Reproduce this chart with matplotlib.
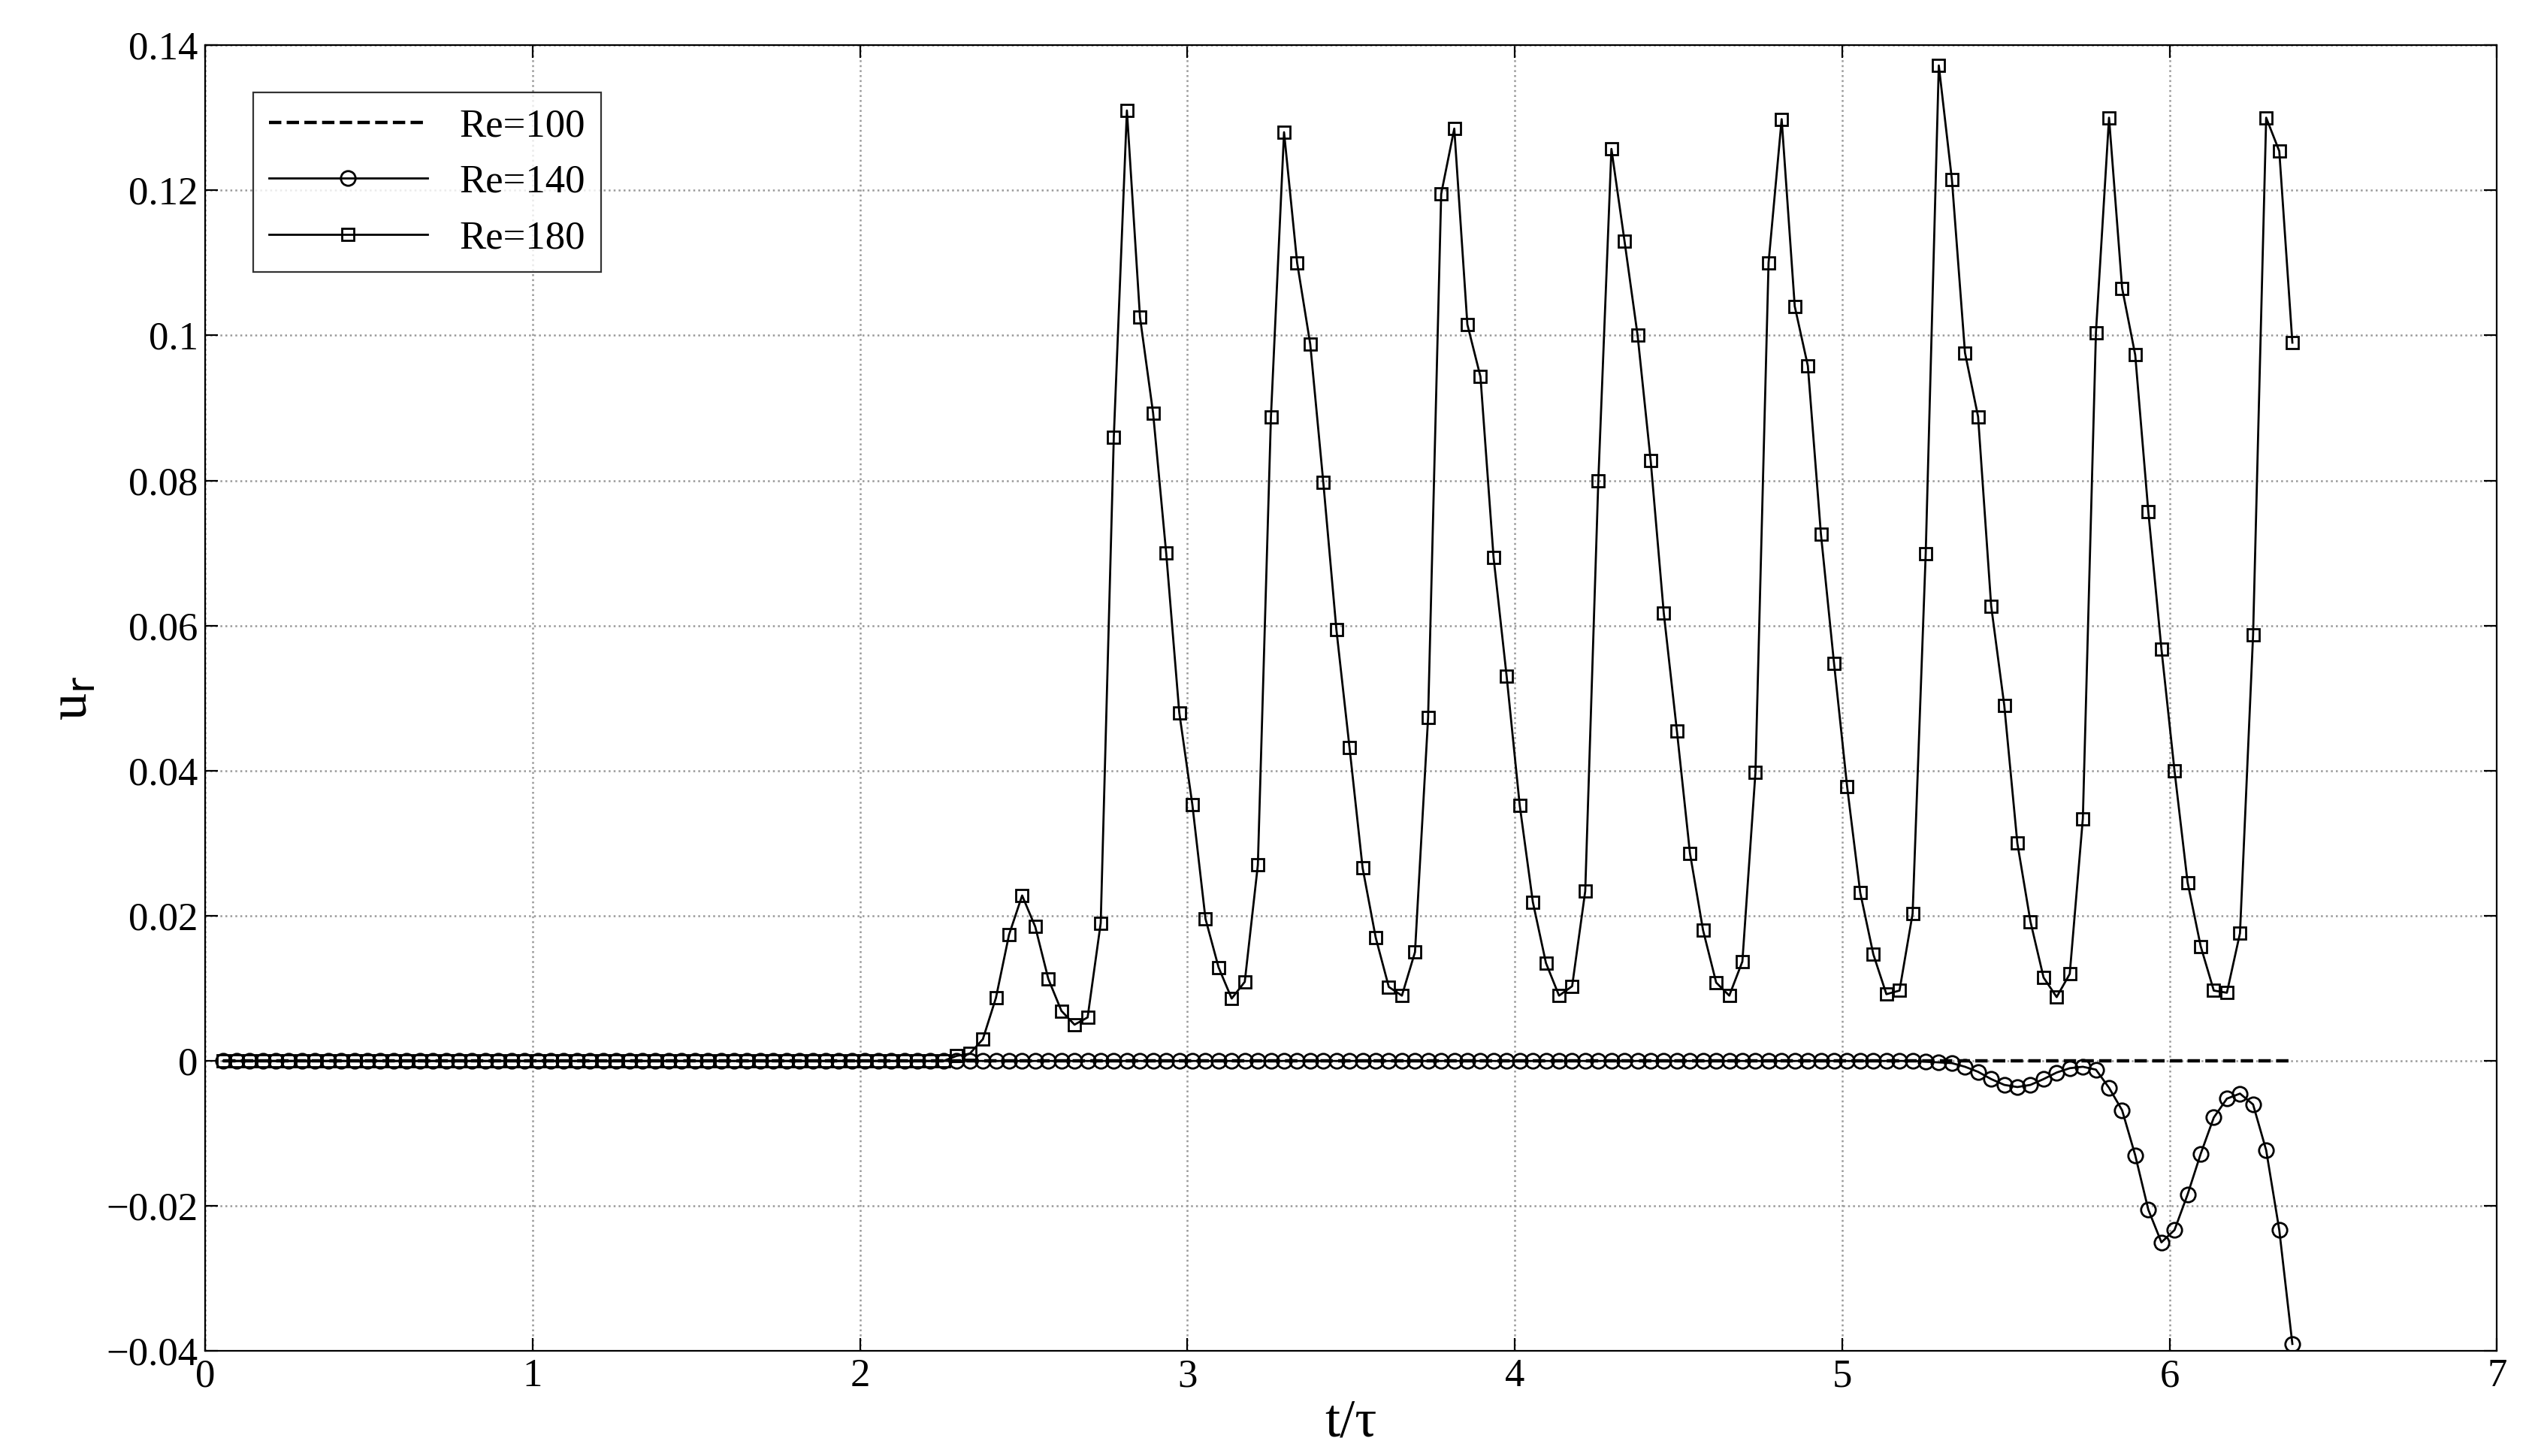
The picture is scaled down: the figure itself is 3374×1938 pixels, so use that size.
import numpy as np
import matplotlib.pyplot as plt

plt.rcParams["font.family"] = ["Liberation Serif", "DejaVu Serif"]

# sampling step of the records
dt = 0.04
t_start = 0.055

# Re=180: zero until t~2.3, then values
re180_active = [
    0.0007, 0.001, 0.003, 0.0087, 0.0174, 0.0228, 0.0185, 0.0113, 0.0069, 0.005,
    0.006, 0.019, 0.086, 0.131, 0.1025, 0.0893, 0.070, 0.048, 0.0353, 0.0196,
    0.0129, 0.0086, 0.0109, 0.027, 0.0888, 0.128, 0.110, 0.0988, 0.0797, 0.0594,
    0.0432, 0.0266, 0.017, 0.0102, 0.009, 0.015, 0.0473, 0.1195, 0.1285, 0.1015,
    0.0943, 0.0694, 0.053, 0.0352, 0.0219, 0.0135, 0.009, 0.0103, 0.0234, 0.080,
    0.1257, 0.113, 0.100, 0.0827, 0.0617, 0.0455, 0.0286, 0.018, 0.0108, 0.009,
    0.0137, 0.0398, 0.110, 0.1298, 0.104, 0.0958, 0.0726, 0.0548, 0.0378, 0.0232,
    0.0147, 0.0092, 0.0097, 0.0203, 0.0699, 0.1372, 0.1215, 0.0976, 0.0888, 0.0627,
    0.049, 0.030, 0.0192, 0.0115, 0.0088, 0.012, 0.0334, 0.1004, 0.130, 0.1065,
    0.0973, 0.0757, 0.0568, 0.040, 0.0246, 0.0158, 0.0097, 0.0094, 0.0176, 0.0587,
    0.130, 0.1254, 0.099,
]

# Re=140: zero until t~5.2, then values
re140_active = [
    -0.0001, -0.0002, -0.0003, -0.0008, -0.0015, -0.0025, -0.0033, -0.0036, -0.0033,
    -0.0025, -0.0016, -0.001, -0.0008, -0.0012, -0.0037, -0.0068, -0.013, -0.0205,
    -0.025, -0.0233, -0.0184, -0.0128, -0.0078, -0.0052, -0.0045, -0.006, -0.0123,
    -0.0233, -0.039,
]

n_total = len(re180_active) + 56
t = t_start + dt * np.arange(n_total)
re180 = np.concatenate([np.zeros(n_total - len(re180_active)), re180_active])
re140 = np.concatenate([np.zeros(n_total - len(re140_active)), re140_active])
re100 = np.zeros(n_total)

fig = plt.figure(figsize=(16.87, 9.69), dpi=200)
ax = fig.add_axes([0.081, 0.072, 0.904, 0.897])

ax.plot(t, re100, "k--", lw=1.6, label="Re=100")
ax.plot(t, re140, "k-", lw=1.0, marker="o", ms=7, mfc="none", mew=1.0, label="Re=140")
ax.plot(t, re180, "k-", lw=1.0, marker="s", ms=6, mfc="none", mew=1.0, label="Re=180")

ax.set_xlim(0, 7)
ax.set_ylim(-0.04, 0.14)
ax.set_xticks(range(8))
ax.set_yticks([-0.04, -0.02, 0, 0.02, 0.04, 0.06, 0.08, 0.1, 0.12, 0.14])
ax.set_yticklabels(["\u22120.04", "\u22120.02", "0", "0.02", "0.04", "0.06", "0.08",
                    "0.1", "0.12", "0.14"])
ax.tick_params(labelsize=19, direction="in", length=6, top=True, right=True)
ax.grid(True, linestyle=":", color="0.6", lw=0.9)
ax.set_xlabel("t/\u03c4", fontsize=26, labelpad=2)
ax.set_ylabel(r"u$_\mathrm{r}$", fontsize=26)

leg = ax.legend(loc="upper left", fontsize=19, fancybox=False, edgecolor="k",
                handlelength=4, borderaxespad=1.2)
leg.get_frame().set_linewidth(0.8)

fig.savefig("out.png")
